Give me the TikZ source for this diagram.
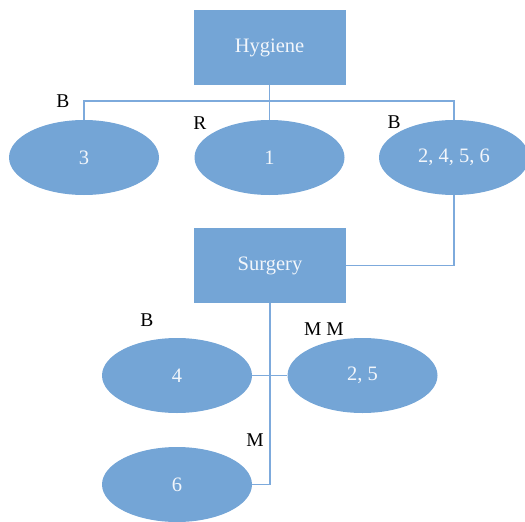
\documentclass[tikz,border=0pt]{standalone}
\usepackage{fontspec}
\setmainfont{Liberation Serif}
\usetikzlibrary{shapes.geometric}
\definecolor{boxblue}{HTML}{74A5D6}
\definecolor{lineblue}{HTML}{7DAADC}
\definecolor{txtwhite}{HTML}{F2F6FB}
\tikzset{
  rectbox/.style={draw=none,fill=boxblue,minimum width=152pt,minimum height=75pt,inner sep=0pt,text=txtwhite,font=\fontsize{20.5}{24}\selectfont},
  ellbox/.style={ellipse,draw=none,fill=boxblue,minimum width=150pt,minimum height=75pt,inner sep=0pt,text=txtwhite,font=\fontsize{20.5}{24}\selectfont},
  conn/.style={draw=lineblue,line width=1.8pt},
  lbl/.style={text=black,inner sep=0pt,font=\fontsize{19.5}{23}\selectfont}
}
\begin{document}
\begin{tikzpicture}[x=1pt,y=-1pt]
\useasboundingbox (0,0) rectangle (525,522);
\node[rectbox] (hyg) at (269.5,47.5) {Hygiene};
\node[ellbox] (e3) at (84,157.5) {3};
\node[ellbox] (e1) at (269.5,157.5) {1};
\node[ellbox] (e2456) at (454,157.5) {2, 4, 5, 6};
\node[rectbox] (surg) at (270,265.5) {Surgery};
\node[ellbox] (e4) at (177,375.5) {4};
\node[ellbox] (e25) at (362.5,375.5) {2, 5};
\node[ellbox] (e6) at (177,484.5) {6};
\coordinate (hj) at (269.5,101);
\draw[conn] (hyg.south) -- (e1.north);
\draw[conn] (e3.north) |- (hj) -| (e2456.north);
\draw[conn] (e2456.south) |- (surg.east);
\draw[conn] (surg.south) |- (e6.east);
\draw[conn] (e4.east) -- (e25.west);
\node[lbl] at (63,101) {B};
\node[lbl] at (200,123) {R};
\node[lbl] at (394,122) {B};
\node[lbl] at (147,320) {B};
\node[lbl] at (324,329) {M M};
\node[lbl] at (255,440) {M};
\end{tikzpicture}
\end{document}
